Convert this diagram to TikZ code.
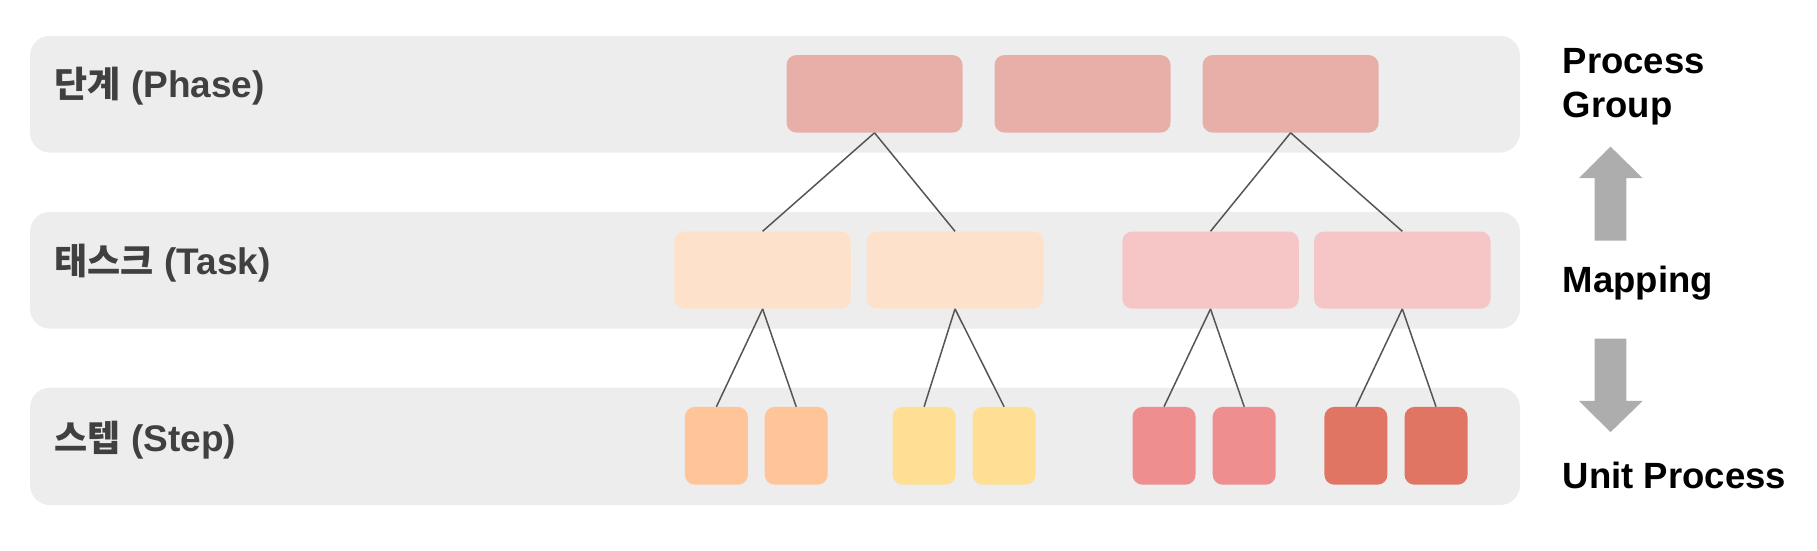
\documentclass[tikz,border=0pt]{standalone}
\usepackage{fontspec}
\setmainfont{Liberation Sans}
\newfontfamily\krfont{Noto Sans CJK KR}
\definecolor{bandc}{HTML}{EDEDED}
\definecolor{phasec}{HTML}{E8AFA8}
\definecolor{taskA}{HTML}{FDE1CA}
\definecolor{taskB}{HTML}{F6C5C6}
\definecolor{stepO}{HTML}{FFC599}
\definecolor{stepY}{HTML}{FFDF93}
\definecolor{stepR}{HTML}{EE8E8E}
\definecolor{stepD}{HTML}{E07563}
\definecolor{linec}{HTML}{555555}
\definecolor{arrowc}{HTML}{ADADAD}
\definecolor{labc}{HTML}{404040}
\newcommand{\krtxt}[1]{{\fontsize{36}{42}\selectfont\krfont\bfseries #1}}
\tikzset{
  band/.style={fill=bandc, draw=none, rounded corners=20pt},
  box/.style={rectangle, draw=none, rounded corners=10pt, inner sep=0pt},
  phasebox/.style={box, fill=phasec, minimum width=176pt, minimum height=77.6pt},
  taskbox/.style={box, minimum width=176.5pt, minimum height=77.2pt},
  stepbox/.style={box, minimum width=63pt, minimum height=77.8pt},
  link/.style={draw=linec, line width=1.5pt},
  leftlab/.style={anchor=base west, inner sep=0pt, text=labc, font=\fontsize{37}{44}\selectfont\bfseries},
  rightlab/.style={anchor=base west, inner sep=0pt, text=black, font=\fontsize{36.5}{44}\selectfont\bfseries},
  bigarrow/.style={fill=arrowc, draw=none}
}
\begin{document}
\begin{tikzpicture}[x=1pt,y=-1pt]
\useasboundingbox (0,0) rectangle (1817,550);
% bands
\fill[band] (30,35.8) rectangle (1520,152.6);
\fill[band] (30,211.9) rectangle (1520,328.7);
\fill[band] (30,387.6) rectangle (1520,505.1);
% labels
\node[leftlab] (lphase) at (54.5,97) {\krtxt{단계} (Phase)};
\node[leftlab] (ltask) at (54.5,274) {\krtxt{태스크} (Task)};
\node[leftlab] (lstep) at (54.5,451) {\krtxt{스텝} (Step)};
% phase boxes
\node[phasebox] (p1) at (874.5,93.8) {};
\node[phasebox] (p2) at (1082.5,93.8) {};
\node[phasebox] (p3) at (1290.6,93.8) {};
% task boxes
\node[taskbox, fill=taskA] (t1) at (762.6,270.1) {};
\node[taskbox, fill=taskA] (t2) at (955,270.1) {};
\node[taskbox, fill=taskB] (t3) at (1210.5,270.1) {};
\node[taskbox, fill=taskB] (t4) at (1402.3,270.1) {};
% step boxes
\node[stepbox, fill=stepO] (s1) at (716.4,445.8) {};
\node[stepbox, fill=stepO] (s2) at (796.2,445.8) {};
\node[stepbox, fill=stepY] (s3) at (924.1,445.8) {};
\node[stepbox, fill=stepY] (s4) at (1004.1,445.8) {};
\node[stepbox, fill=stepR] (s5) at (1164,445.8) {};
\node[stepbox, fill=stepR] (s6) at (1244.2,445.8) {};
\node[stepbox, fill=stepD] (s7) at (1355.9,445.8) {};
\node[stepbox, fill=stepD] (s8) at (1436,445.8) {};
% links
\draw[link] (p1.south) -- (t1.north);
\draw[link] (p1.south) -- (t2.north);
\draw[link] (p3.south) -- (t3.north);
\draw[link] (p3.south) -- (t4.north);
\draw[link] (t1.south) -- (s1.north);
\draw[link] (t1.south) -- (s2.north);
\draw[link] (t2.south) -- (s3.north);
\draw[link] (t2.south) -- (s4.north);
\draw[link] (t3.south) -- (s5.north);
\draw[link] (t3.south) -- (s6.north);
\draw[link] (t4.south) -- (s7.north);
\draw[link] (t4.south) -- (s8.north);
% right labels
\node[rightlab] (rpg1) at (1562.6,73.5) {Process};
\node[rightlab] (rpg2) at (1562.6,117) {Group};
\node[rightlab] (rmap) at (1562.6,292.5) {Mapping};
\node[rightlab] (runit) at (1562.6,488.5) {Unit Process};
% arrows
\fill[bigarrow] (1610.5,146.6) -- (1642.7,178.2) -- (1626.3,178.2) -- (1626.3,240.6) -- (1594.7,240.6) -- (1594.7,178.2) -- (1578.9,178.2) -- cycle;
\fill[bigarrow] (1610.5,432.1) -- (1642.7,400.9) -- (1626.3,400.9) -- (1626.3,338.5) -- (1594.7,338.5) -- (1594.7,400.9) -- (1578.9,400.9) -- cycle;
\end{tikzpicture}
\end{document}
